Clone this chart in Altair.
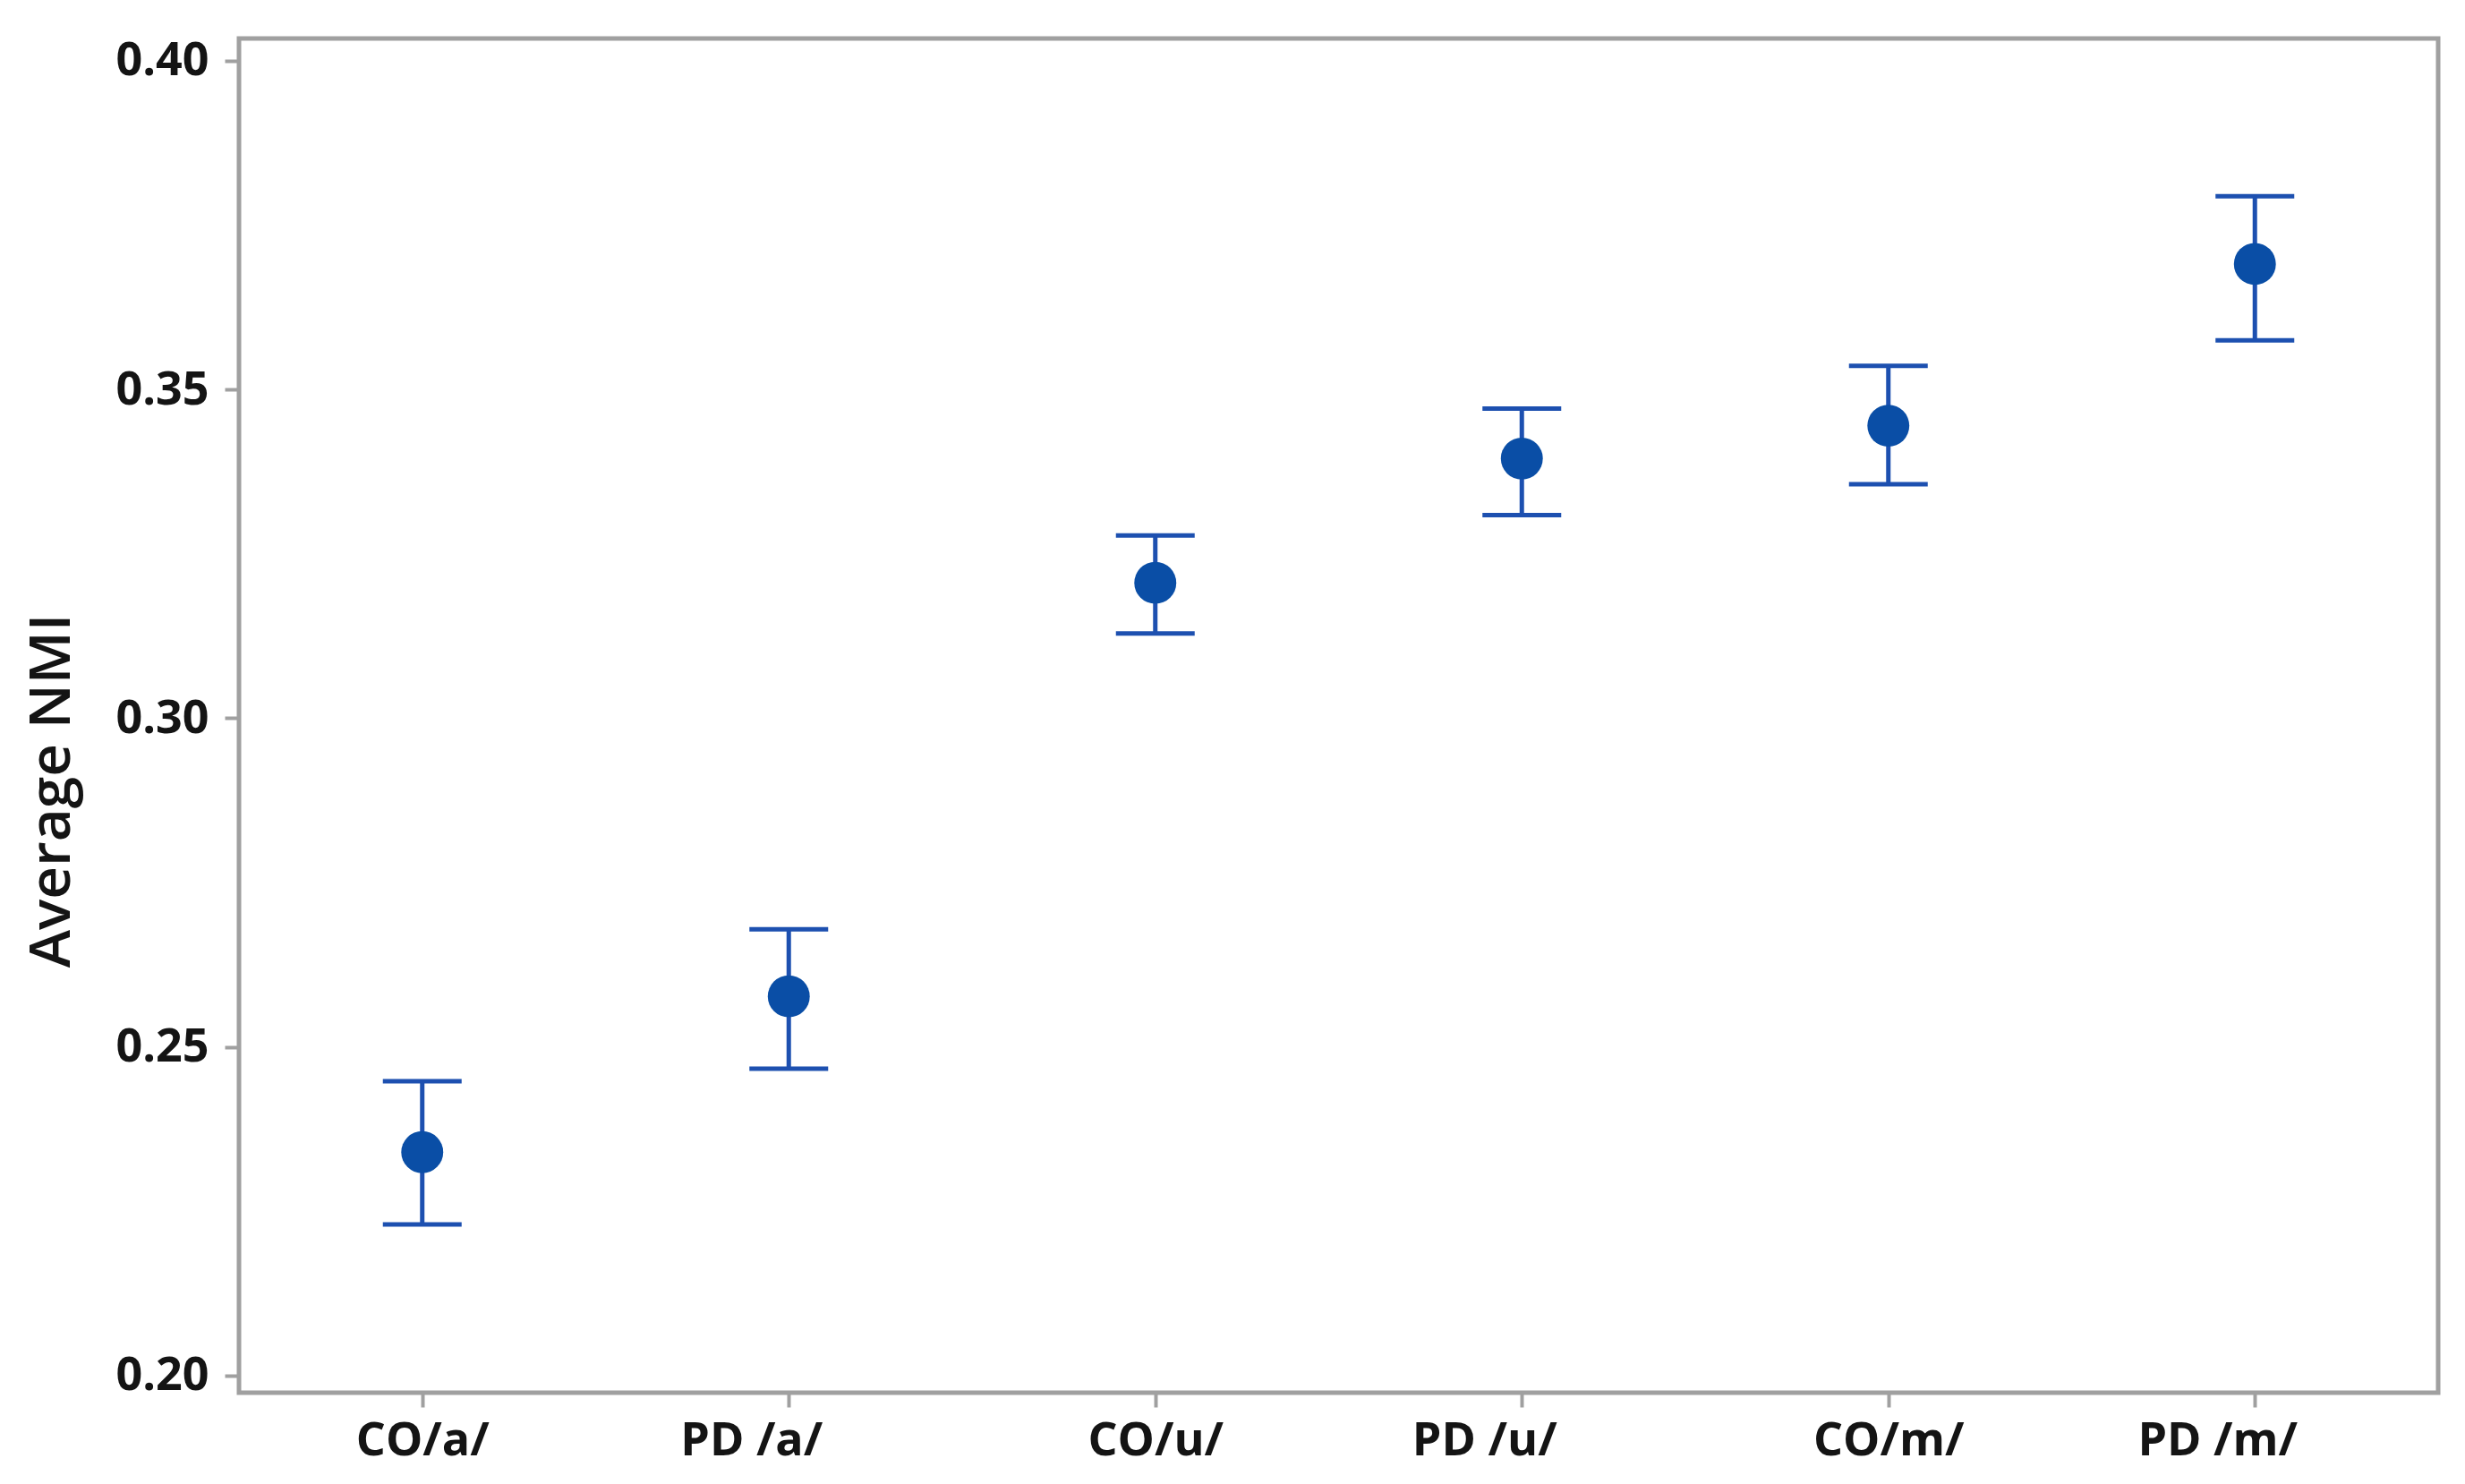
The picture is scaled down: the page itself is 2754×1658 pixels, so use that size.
import altair as alt
import pandas as pd

categories = ["CO/a/", "PD /a/", "CO/u/", "PD /u/", "CO/m/", "PD /m/"]
means = [0.2340, 0.2577, 0.3206, 0.3395, 0.3445, 0.3691]
uppers = [0.2448, 0.2679, 0.3278, 0.3471, 0.3536, 0.3794]
lowers = [0.2230, 0.2467, 0.3129, 0.3309, 0.3356, 0.3575]
y_ticks = [0.20, 0.25, 0.30, 0.35, 0.40]

df = pd.DataFrame({"group": categories, "mean": means, "upper": uppers, "lower": lowers})

bar_color = "#1d50b0"
pt_color = "#0a4ea6"
frame_color = "#a0a0a0"
FONT = "Open Sans"

x_enc = alt.X(
    "group:N",
    sort=categories,
    scale=alt.Scale(type="point", padding=0.5),
    axis=alt.Axis(
        title=None,
        labelFont=FONT,
        labelFontSize=52,
        labelFontWeight="bold",
        labelColor="#141414",
        labelAngle=0,
        labelPadding=12,
        labelOffset={"condition": {"test": "indexof(datum.label, 'PD') === 0", "value": -42}, "value": 0},
        tickColor=frame_color,
        tickWidth=4,
        tickSize=16,
        domain=False,
    ),
)

y_scale = alt.Scale(domain=[0.19741, 0.4034], nice=False, zero=False)
y_axis = alt.Axis(
    title="Average NMI",
    values=y_ticks,
    format=".2f",
    labelFont=FONT,
    labelFontSize=52,
    labelFontWeight="bold",
    labelColor="#141414",
    labelPadding=18,
    tickColor=frame_color,
    tickWidth=4,
    tickSize=16,
    grid=False,
    domain=False,
    titleFont=FONT,
    titleFontSize=64,
    titleFontWeight=600,
    titleColor="#141414",
    titleAngle=270,
    titleAlign="center",
    titleBaseline="alphabetic",
    titleX=-190,
    titleY=840,
)

base = alt.Chart(df)

rules = base.mark_rule(color=bar_color, strokeWidth=5, opacity=1).encode(
    x=x_enc,
    y=alt.Y("lower:Q", scale=y_scale, axis=y_axis),
    y2="upper:Q",
)
cap_hi = base.mark_tick(color=bar_color, thickness=5, size=88, opacity=1).encode(
    x=alt.X("group:N", sort=categories), y=alt.Y("upper:Q")
)
cap_lo = base.mark_tick(color=bar_color, thickness=5, size=88, opacity=1).encode(
    x=alt.X("group:N", sort=categories), y=alt.Y("lower:Q")
)
pts = base.mark_point(filled=True, shape="circle", size=2200, color=pt_color, opacity=1).encode(
    x=alt.X("group:N", sort=categories), y=alt.Y("mean:Q")
)

chart = (
    alt.layer(rules, cap_hi, cap_lo, pts)
    .properties(
        width=2457,
        height=1513,
        autosize=alt.AutoSizeParams(type="none"),
        padding={"left": 259, "top": 35, "right": 22, "bottom": 90},
        background="white",
    )
    .configure_view(stroke=frame_color, strokeWidth=5)
)

chart.save("out.html", embed_options={"renderer": "svg", "actions": False})
